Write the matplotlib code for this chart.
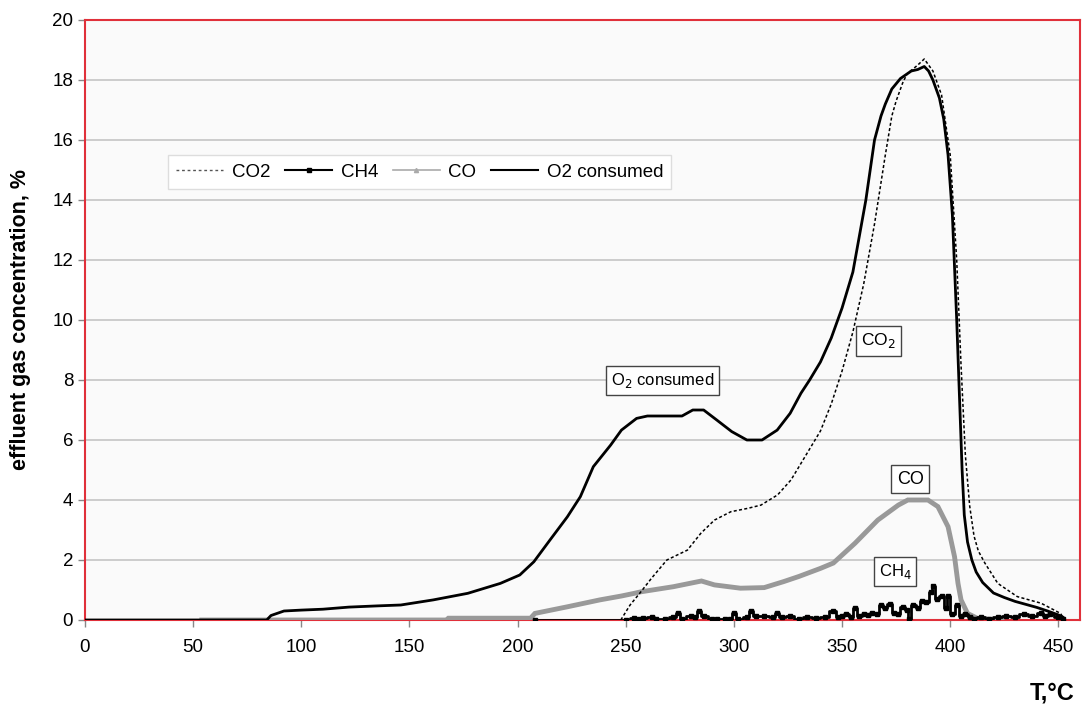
import matplotlib
matplotlib.use('Agg')
import matplotlib.pyplot as plt
from matplotlib.lines import Line2D

plt.rcParams['font.family'] = ['Liberation Sans', 'DejaVu Sans']

# O2 consumed
o2_t = [0, 84, 86, 92, 100, 110, 122, 135, 146, 161, 177, 192, 201, 207.5, 215, 223, 229, 235,
        243, 248, 255, 260, 276, 281, 286, 292, 299, 306, 313, 320, 326, 331, 335, 340, 345,
        350, 355, 358, 361, 365, 368, 370, 373, 377, 382, 385, 388, 390, 392, 395, 397, 399,
        401, 403, 404, 405.5, 406.5, 408, 410, 412, 415, 420, 425, 430, 435, 440, 445, 450, 452]
o2_v = [0, 0, 0.15, 0.3, 0.33, 0.36, 0.43, 0.47, 0.5, 0.67, 0.89, 1.22, 1.5, 1.94, 2.67, 3.44,
        4.11, 5.11, 5.83, 6.33, 6.72, 6.8, 6.8, 7.0, 7.0, 6.67, 6.28, 6.0, 6.0, 6.33, 6.89, 7.56,
        8.0, 8.6, 9.4, 10.4, 11.6, 12.8, 14.0, 16.0, 16.8, 17.2, 17.7, 18.05, 18.3, 18.35, 18.45,
        18.3, 18.0, 17.4, 16.7, 15.5, 13.5, 10.0, 8.0, 5.0, 3.5, 2.6, 2.0, 1.6, 1.25, 0.9, 0.75,
        0.62, 0.52, 0.42, 0.3, 0.17, 0.1]

# CO2
co2_t = [247.7, 252, 257, 262, 269, 278.5, 284.7, 291, 298.6, 306.3, 312.5, 320.2, 326.4, 331,
         340, 345, 350, 355, 360, 365, 370, 373, 375, 378, 380, 385, 388, 392, 396, 400, 403,
         405, 407, 409, 411, 413, 416, 422, 431, 442, 451, 452]
co2_v = [0, 0.5, 0.94, 1.4, 2.0, 2.33, 2.89, 3.33, 3.61, 3.72, 3.83, 4.17, 4.67, 5.22, 6.3, 7.2,
         8.3, 9.6, 11.2, 13.2, 15.5, 16.8, 17.3, 17.9, 18.2, 18.5, 18.7, 18.3, 17.5, 15.5, 12.0,
         8.5, 5.5, 3.8, 2.8, 2.3, 1.9, 1.22, 0.78, 0.56, 0.22, 0.1]

# CO
co_t = [54, 167, 168, 206, 208, 223, 238, 248, 254, 257, 272, 285, 291, 303, 314, 323, 330, 340,
        346, 356, 366.5, 376, 380.4, 389.7, 394.3, 399, 402, 403.6, 405, 408, 412.7, 424]
co_v = [0, 0, 0.06, 0.06, 0.22, 0.44, 0.67, 0.8, 0.89, 0.94, 1.11, 1.3, 1.17, 1.06, 1.08, 1.28,
        1.45, 1.72, 1.9, 2.56, 3.33, 3.83, 4.0, 4.0, 3.78, 3.11, 2.11, 1.22, 0.67, 0.22, 0.05, 0]

# CH4
ch4_t = [208, 250, 254, 256, 258, 262, 264, 268, 272, 274, 276, 280, 282, 284, 286, 290, 292,
         296, 298, 300, 302, 306, 308, 310, 314, 318, 320, 322, 326, 330, 334, 338, 342, 346,
         348, 350, 352, 354, 356, 358, 360, 362, 364, 366, 368, 370, 372, 374, 376, 378, 380,
         381, 383, 385, 387, 389, 391, 392, 394, 396, 398, 399, 401, 403, 405, 407, 409, 411,
         414, 418, 422, 426, 430, 434, 438, 442, 444, 446, 450, 452]
ch4_v = [0, 0, 0.08, 0.02, 0.08, 0.1, 0.02, 0.05, 0.1, 0.25, 0.05, 0.15, 0.1, 0.3, 0.15, 0.05,
         0.02, 0.02, 0.03, 0.22, 0.05, 0.1, 0.3, 0.12, 0.15, 0.1, 0.25, 0.1, 0.12, 0.05, 0.1,
         0.08, 0.1, 0.3, 0.1, 0.15, 0.2, 0.1, 0.4, 0.15, 0.2, 0.18, 0.25, 0.2, 0.5, 0.4, 0.55,
         0.25, 0.2, 0.45, 0.35, 0.05, 0.5, 0.4, 0.65, 0.6, 0.95, 1.15, 0.7, 0.8, 0.4, 0.8, 0.2,
         0.5, 0.15, 0.2, 0.1, 0.05, 0.1, 0.05, 0.1, 0.15, 0.1, 0.2, 0.12, 0.25, 0.15, 0.2, 0.1,
         0.05]

fig = plt.figure(figsize=(10.82, 7.13), dpi=100)
ax = fig.add_axes([85 / 1082, 93 / 713, 995 / 1082, 600 / 713])
ax.set_facecolor('#fafafa')

ax.plot(co_t, co_v, color='#999999', lw=3.5, solid_joinstyle='miter', zorder=3)
ax.plot(ch4_t, ch4_v, color='black', lw=2.0, drawstyle='steps-mid', marker='s', ms=3, zorder=4)
ax.plot(co2_t, co2_v, color='black', lw=1.1, linestyle=(0, (2, 1.5)), zorder=5)
ax.plot(o2_t, o2_v, color='black', lw=2.0, zorder=6)

ax.set_xlim(0, 460)
ax.set_ylim(0, 20)
ax.set_xticks(range(0, 451, 50))
ax.set_yticks(range(0, 21, 2))
ax.yaxis.grid(True, color='#c4c4c4', lw=1.2)
ax.set_axisbelow(True)
ax.tick_params(axis='both', labelsize=13.5, colors='#888888', labelcolor='black', length=5, width=1)
ax.tick_params(axis='x', pad=9)
for s in ax.spines.values():
    s.set_color('#e0303a')
    s.set_linewidth(1.5)

ax.set_ylabel('effluent gas concentration, %', fontsize=15.5, fontweight='bold')
ax.yaxis.set_label_coords(-(85 - 31) / 995, 0.5)
fig.text(1075 / 1082, 1 - 693 / 713, 'T,°C', fontsize=17, fontweight='bold', ha='right', va='center')

box = dict(boxstyle='square,pad=0.3', fc='white', ec='#444444', lw=1)
ax.text(267, 7.97, 'O$_2$ consumed', fontsize=12, ha='center', va='center', bbox=box)
ax.text(366.7, 9.3, 'CO$_2$', fontsize=12.5, ha='center', va='center', bbox=box)
ax.text(381.5, 4.7, 'CO', fontsize=13, ha='center', va='center', bbox=box)
ax.text(374.5, 1.63, 'CH$_4$', fontsize=12, ha='center', va='center', bbox=box)

handles = [
    Line2D([], [], color='#555555', lw=1, linestyle=(0, (2, 2))),
    Line2D([], [], color='black', lw=1.5, marker='s', ms=3),
    Line2D([], [], color='#aaaaaa', lw=1.2, marker='^', ms=3),
    Line2D([], [], color='black', lw=1.5),
]
leg = ax.legend(handles, ['CO2', 'CH4', 'CO', 'O2 consumed'], ncol=4, fontsize=13.5,
                loc='upper left', bbox_to_anchor=(0.0834, 0.775), borderaxespad=0,
                fancybox=False, frameon=True, edgecolor='#dddddd', facecolor='white',
                framealpha=1, handlelength=2.5, handletextpad=0.45, columnspacing=0.8,
                borderpad=0.45)
leg.get_frame().set_linewidth(1)

fig.savefig('out.png', dpi=100)
